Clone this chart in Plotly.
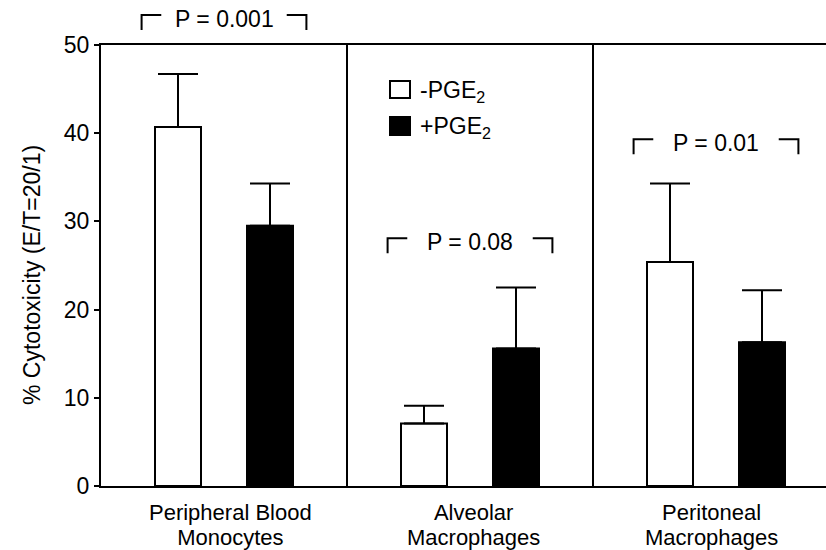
import plotly.graph_objects as go

# ---------------- data ----------------
categories = ["Peripheral Blood Monocytes", "Alveolar Macrophages", "Peritoneal Macrophages"]
label_line1 = ["Peripheral Blood", "Alveolar", "Peritoneal"]
label_line2 = ["Monocytes", "Macrophages", "Macrophages"]

minus_pge2 = [40.7, 7.1, 25.4]
minus_pge2_err = [6.0, 2.0, 8.9]
plus_pge2 = [29.5, 15.6, 16.3]
plus_pge2_err = [4.8, 6.9, 5.9]

p_values = ["P = 0.001", "P = 0.08", "P = 0.01"]
p_levels = [53.0, 27.7, 38.9]      # y (data units) of the p-value text / bracket

y_ticks = [0, 10, 20, 30, 40, 50]
y_title = "% Cytotoxicity (E/T=20/1)"
legend_names = ["-PGE<sub>2</sub>", "+PGE<sub>2</sub>"]

# ---------------- layout geometry (page pixels) ----------------
W, H = 826, 550
L, R, T, B = 101, 826, 45, 486   # plot area in pixels
PW, PH = R - L, B - T
UNIT = 246.0  # px per category
XMAX = -0.5 + PW / UNIT
YMAX = 50
label_xshift = [6, 3, -5]

def pxx(px):
    return (px - L) / PW

def pxy(py):
    return (B - py) / PH

FONT = "Liberation Sans, Arial, Helvetica, sans-serif"
fs = 23
lab_fs = 22

fig = go.Figure()
fig.add_trace(go.Bar(
    x=categories, y=minus_pge2, name="-PGE2",
    marker=dict(color="white", line=dict(color="black", width=2)),
    error_y=dict(type="data", array=minus_pge2_err, arrayminus=[0] * 3, symmetric=False,
                 color="black", thickness=2, width=20),
    showlegend=False,
))
fig.add_trace(go.Bar(
    x=categories, y=plus_pge2, name="+PGE2",
    marker=dict(color="black", line=dict(color="black", width=2)),
    error_y=dict(type="data", array=plus_pge2_err, arrayminus=[0] * 3, symmetric=False,
                 color="black", thickness=2, width=20),
    showlegend=False,
))

shapes = []
annotations = []

# group dividers
for i in range(len(categories) - 1):
    shapes.append(dict(type="line", xref="x", yref="paper", x0=i + 0.5, x1=i + 0.5, y0=0, y1=1,
                       line=dict(color="black", width=2)))

# p-value brackets
half = 0.335
arm = 0.08
drop = 15 / PH * YMAX  # vertical arm length in data units
for i, (txt, lvl) in enumerate(zip(p_values, p_levels)):
    top = (lvl + 0.4) / YMAX
    bot = (lvl + 0.4 - drop) / YMAX
    shapes.append(dict(type="path", xref="x", yref="paper",
                       path=f"M {i - half},{bot} L {i - half},{top} L {i - half + arm},{top}",
                       line=dict(color="black", width=2)))
    shapes.append(dict(type="path", xref="x", yref="paper",
                       path=f"M {i + half - arm},{top} L {i + half},{top} L {i + half},{bot}",
                       line=dict(color="black", width=2)))
    annotations.append(dict(x=i, y=lvl / YMAX, xref="x", yref="paper", text=txt,
                            showarrow=False, xanchor="center", yanchor="middle",
                            font=dict(family=FONT, size=fs, color="black")))

# category labels: one text per category, tight leading (base size sets line spacing)
for cat, l1, l2, xs in zip(categories, label_line1, label_line2, label_xshift):
    txt = (f'<span style="font-size:{lab_fs}px">{l1}</span><br>'
           f'<span style="font-size:{lab_fs}px">{l2}</span>')
    annotations.append(dict(x=cat, y=pxy(524.5), xref="x", yref="paper", text=txt,
                            showarrow=False, xanchor="center", yanchor="middle", xshift=xs,
                            align="center",
                            font=dict(family=FONT, size=19, color="black")))

# y title
annotations.append(dict(x=pxx(32), y=pxy(275), xref="paper", yref="paper", text=y_title,
                        textangle=-90, showarrow=False, xanchor="center", yanchor="middle",
                        font=dict(family=FONT, size=fs, color="black")))

# legend
leg_rows = [(81, 98, "white"), (117, 135, "black")]
for (y0, y1, col), name in zip(leg_rows, legend_names):
    shapes.append(dict(type="rect", xref="paper", yref="paper", x0=pxx(390), x1=pxx(410),
                       y0=pxy(y1), y1=pxy(y0), fillcolor=col, line=dict(color="black", width=2)))
    annotations.append(dict(x=pxx(418), y=pxy((y0 + y1) / 2 + 2), xref="paper", yref="paper",
                            text=name, showarrow=False, xanchor="left", yanchor="middle",
                            font=dict(family=FONT, size=fs, color="black")))

fig.update_layout(
    width=W, height=H,
    margin=dict(l=L, r=W - R, t=T, b=H - B, pad=0),
    paper_bgcolor="white", plot_bgcolor="white",
    barmode="group", bargap=0.252, bargroupgap=0.5,
    shapes=shapes, annotations=annotations,
    showlegend=False,
    font=dict(family=FONT, size=fs, color="black"),
)
fig.update_xaxes(range=[-0.5, XMAX], showline=True, linecolor="black", linewidth=2, mirror=True,
                 showticklabels=False, ticks="", showgrid=False, zeroline=False)
fig.update_yaxes(range=[0, YMAX], tickvals=y_ticks, ticks="outside", ticklen=5, tickwidth=2,
                 tickcolor="black", showline=True, linecolor="black", linewidth=2,
                 showgrid=False, zeroline=False,
                 tickfont=dict(family=FONT, size=fs, color="black"))

fig.write_html("out.html", config={"displayModeBar": False},
               post_script="document.body.style.margin='0';document.body.style.overflow='hidden';")
